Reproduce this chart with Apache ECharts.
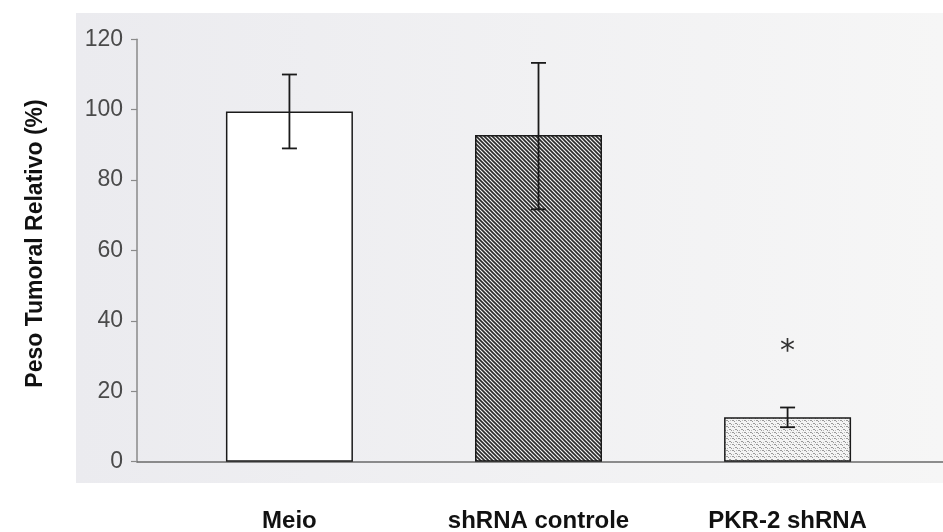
<!DOCTYPE html>
<html>
<head>
<meta charset="utf-8">
<script src="https://cdn.jsdelivr.net/npm/echarts@6/dist/echarts.min.js"></script>
<style>
html,body{margin:0;padding:0;background:#ffffff;}
#chart{width:943px;height:532px;}
</style>
</head>
<body>
<div id="chart"></div>
<script>
// ---- data ----
const categories = ['Meio', 'shRNA controle', 'PKR-2 shRNA'];
const meanValues = [99.5, 92.8, 12.6];
const errorLow = [89, 71.7, 9.8];
const errorHigh = [110, 113.3, 15.4];
const significance = ['', '', '*'];
const significanceLevel = [null, null, 31];
const yTickMin = 0, yTickMax = 120, yTickStep = 20;

// ---- fill patterns ----
function hatchPattern() {
  const c = document.createElement('canvas');
  c.width = 4; c.height = 4;
  const g = c.getContext('2d');
  g.fillStyle = '#f2f2f2'; g.fillRect(0, 0, 4, 4);
  g.strokeStyle = '#2a2a2a'; g.lineWidth = 1.6;
  g.beginPath();
  g.moveTo(-1, -1); g.lineTo(5, 5);
  g.moveTo(-1, 3); g.lineTo(1, 5);
  g.moveTo(3, -1); g.lineTo(5, 1);
  g.stroke();
  return c;
}
function stipplePattern() {
  const c = document.createElement('canvas');
  c.width = 6; c.height = 6;
  const g = c.getContext('2d');
  g.fillStyle = '#f4f4f4'; g.fillRect(0, 0, 6, 6);
  g.fillStyle = '#999999';
  g.fillRect(0, 0, 2, 1); g.fillRect(2, 1, 1, 1);
  g.fillRect(3, 3, 2, 1); g.fillRect(5, 4, 1, 1);
  g.fillStyle = '#bbbbbb';
  g.fillRect(1, 4, 1, 1); g.fillRect(4, 0, 1, 1);
  return c;
}
const fills = [
  '#ffffff',
  { image: hatchPattern(), repeat: 'repeat' },
  { image: stipplePattern(), repeat: 'repeat' }
];

const chart = echarts.init(document.getElementById('chart'), null, { renderer: 'canvas' });
const FONT = 'Liberation Sans, Arial, sans-serif';

const option = {
  backgroundColor: '#ffffff',
  animation: false,
  graphic: [{
    type: 'rect', z: -10, silent: true,
    shape: { x: 76, y: 13, width: 867, height: 470 },
    style: {
      fill: new echarts.graphic.LinearGradient(0, 0, 1, 0, [
        { offset: 0, color: '#ebebef' },
        { offset: 1, color: '#f6f6f6' }
      ])
    }
  }],
  grid: { left: 137, right: 0, top: 39.3, bottom: 70.3, containLabel: false, outerBoundsMode: 'none' },
  xAxis: {
    type: 'value',
    min: -0.612, max: 2.624,
    splitLine: { show: false },
    axisTick: { show: false },
    axisLine: { show: true, onZero: false, lineStyle: { color: '#6a6a6a', width: 1.5 } },
    axisLabel: {
      customValues: [0, 1, 2],
      formatter: v => categories[Math.round(v)] || '',
      fontFamily: FONT, fontSize: 24, fontWeight: 'bold', color: '#111111',
      margin: 48
    }
  },
  yAxis: {
    type: 'value',
    min: yTickMin, max: yTickMax, interval: yTickStep,
    name: 'Peso Tumoral Relativo (%)',
    nameLocation: 'middle', nameRotate: 90, nameGap: 90,
    nameTextStyle: { fontFamily: FONT, fontSize: 23, fontWeight: 'bold', color: '#111111', padding: [0, 0, 0, 14] },
    splitLine: { show: false },
    axisLine: { show: true, onZero: false, lineStyle: { color: '#8a8a8a', width: 1.5 } },
    axisTick: { show: true, length: 6, lineStyle: { color: '#8a8a8a', width: 1.2 } },
    axisLabel: { fontFamily: FONT, fontSize: 23, color: '#4a4a4a', margin: 14 }
  },
  series: [
    {
      type: 'bar',
      barWidth: 127,
      data: meanValues.map((v, i) => ({
        value: [i, v],
        itemStyle: { color: fills[i], borderColor: '#1a1a1a', borderWidth: 1.5 }
      })),
      z: 2
    },
    {
      type: 'custom',
      z: 5,
      data: categories.map((c, i) => [i, errorLow[i], errorHigh[i]]),
      renderItem: function (params, api) {
        const x = api.value(0);
        const lo = api.coord([x, api.value(1)]);
        const hi = api.coord([x, api.value(2)]);
        const hw = 7.5;
        const st = { stroke: '#1a1a1a', lineWidth: 1.8 };
        return {
          type: 'group',
          children: [
            { type: 'line', shape: { x1: lo[0], y1: lo[1], x2: hi[0], y2: hi[1] }, style: st },
            { type: 'line', shape: { x1: lo[0] - hw, y1: lo[1], x2: lo[0] + hw, y2: lo[1] }, style: st },
            { type: 'line', shape: { x1: hi[0] - hw, y1: hi[1], x2: hi[0] + hw, y2: hi[1] }, style: st }
          ]
        };
      }
    },
    {
      type: 'custom',
      z: 6,
      data: significance.map((s, i) => [i, significanceLevel[i], s]).filter(d => d[2]),
      renderItem: function (params, api) {
        const p = api.coord([api.value(0), api.value(1)]);
        return {
          type: 'text',
          style: {
            x: p[0], y: p[1], text: significance[api.value(0)],
            fontFamily: 'DejaVu Sans', fontSize: 30, fill: '#333333',
            align: 'center', verticalAlign: 'middle'
          }
        };
      }
    }
  ]
};
chart.setOption(option);
</script>
</body>
</html>
